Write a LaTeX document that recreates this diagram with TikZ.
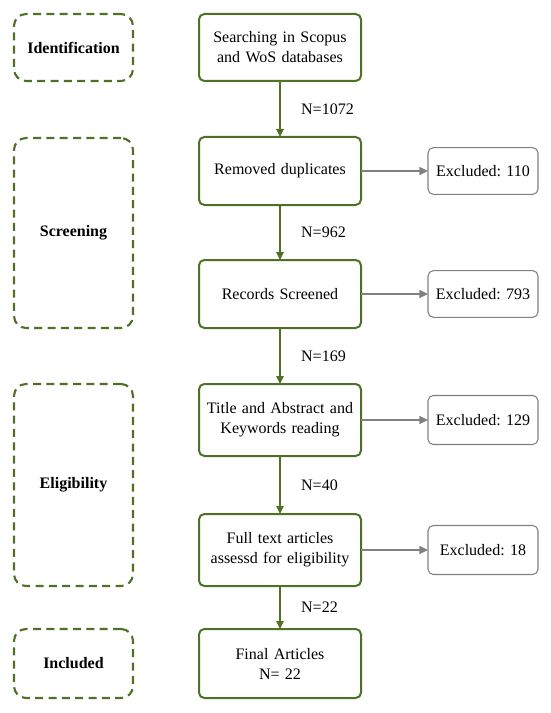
\documentclass[tikz,border=0pt]{standalone}
\usepackage{fontspec}
\setmainfont{Liberation Serif}
\usetikzlibrary{positioning,arrows.meta}

\definecolor{stepgreen}{RGB}{80,112,38}
\definecolor{exgray}{RGB}{128,128,128}

\begin{document}
\begin{tikzpicture}[
  x=0.75pt, y=-0.75pt,
  font=\fontsize{12}{15}\selectfont,
  stepbox/.style={draw=stepgreen, line width=1.5pt, rounded corners=4pt, align=center, text width=112pt, minimum width=121.5pt, minimum height=51pt, inner sep=3pt, outer sep=0pt},
  stagebox/.style={draw=stepgreen, line width=1.6pt, dash pattern=on 6pt off 4pt, rounded corners=9pt, align=center, minimum width=89.25pt, font=\fontsize{12}{15}\selectfont\bfseries},
  exbox/.style={draw=exgray, line width=0.8pt, rounded corners=4pt, align=center, minimum width=82.5pt, minimum height=35pt, outer sep=0pt},
  flow/.style={draw=stepgreen, line width=1.1pt, -{Triangle[length=6pt, width=5.5pt]}},
  exflow/.style={draw=exgray, line width=1.1pt, -{Triangle[length=6.5pt, width=6pt]}},
  nlabel/.style={right=12pt, midway}
]
  \useasboundingbox (0,0) rectangle (550,713);

  % main column
  \node[stepbox, minimum height=50.25pt] (search) at (280,47.5) {Searching in Scopus\\and WoS databases};
  \node[stepbox, below=42pt of search] (dupl) {Removed duplicates};
  \node[stepbox, below=41.25pt of dupl] (screen) {Records Screened};
  \node[stepbox, minimum height=54pt, below=42pt of screen] (title) {Title and Abstract and\\Keywords reading};
  \node[stepbox, minimum height=54pt, below=43.5pt of title] (full) {Full text articles\\assessd for eligibility};
  \node[stepbox, minimum height=51.75pt, below=32.25pt of full] (final) {Final Articles\\N= 22};

  % excluded records
  \node[exbox, right=50.25pt of dupl] (ex1) {Excluded: 110};
  \node[exbox, right=50.25pt of screen] (ex2) {Excluded: 793};
  \node[exbox, minimum height=36.75pt, right=50.25pt of title] (ex3) {Excluded: 129};
  \node[exbox, minimum height=36.75pt, right=50.25pt of full] (ex4) {Excluded: 18};

  % stages
  \node[stagebox, minimum height=50.25pt] (ident) at (73.5,47.5) {Identification};
  \node[stagebox, minimum height=142.5pt] (screening) at (73.5,233) {Screening};
  \node[stagebox, minimum height=151.5pt] (elig) at (73.5,485) {Eligibility};
  \node[stagebox, minimum height=51.75pt] (incl) at (73.5,663.5) {Included};

  \draw[flow] (search) -- node[nlabel] {N=1072} (dupl);
  \draw[flow] (dupl) -- node[nlabel] {N=962} (screen);
  \draw[flow] (screen) -- node[nlabel] {N=169} (title);
  \draw[flow] (title) -- node[nlabel] {N=40} (full);
  \draw[flow] (full) -- node[nlabel] {N=22} (final);

  \draw[exflow] (dupl) -- (ex1);
  \draw[exflow] (screen) -- (ex2);
  \draw[exflow] (title) -- (ex3);
  \draw[exflow] (full) -- (ex4);
\end{tikzpicture}
\end{document}
